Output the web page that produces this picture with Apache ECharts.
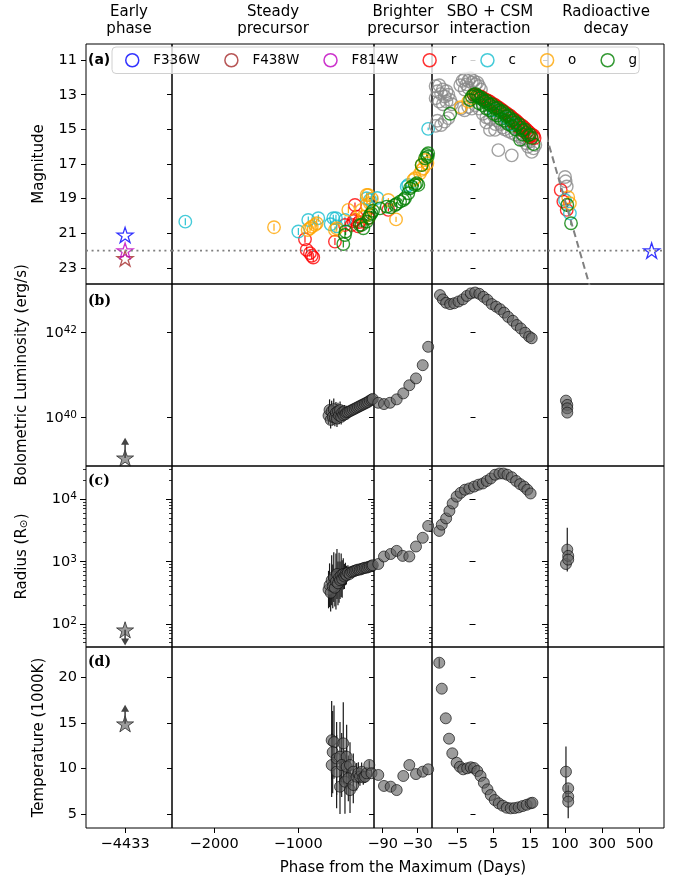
<!DOCTYPE html>
<html><head><meta charset="utf-8">
<script src="https://cdn.jsdelivr.net/npm/echarts@6/dist/echarts.min.js"></script>
<style>html,body{margin:0;padding:0;background:#fff}#c{width:686px;height:883px}</style>
</head><body><div id="c"></div>
<script>
// ---------------- axis / category definitions ----------------
const colTitles = ['Early\nphase','Steady\nprecursor','Brighter\nprecursor','SBO + CSM\ninteraction','Radioactive\ndecay'];
const colXRange = [[-4533,-4313],[-2500,-100],[-105,-5],[-12,20],[10,630]];
const colXTicks = [[-4433],[-2000,-1000],[-90,-30],[-5,5,15],[100,300,500]];
const colDataSpan = [[-5000,-3000],[-3000,-103],[-103,-11.5],[-11.5,50],[50,1000]];
const rowYRange = [[10.07,23.93],[38.87,43.13],[1.63,4.53],[3.5,23.3]];
const rowYTicks = [[11,13,15,17,19,21,23],[40,42],[2,3,4],[5,10,15,20]];
const radiusMinorValues = [50,60,70,80,90,200,300,400,500,600,700,800,900,2000,3000,4000,5000,6000,7000,8000,9000,20000,30000];
const rowTitles = ['Magnitude','Bolometric Luminosity (erg/s)','Radius (R{sub|\u2299})','Temperature (1000K)'];
const panelTags = ['(a)','(b)','(c)','(d)'];
const xTitle = 'Phase from the Maximum (Days)';
const legendNames = ['F336W','F438W','F814W','r','c','o','g'];

// ---------------- row (a): magnitudes [day, mag, err] ----------------
const F336W = [[-4433,21.1],[564,22.0]];
const F438W = [[-4433,22.45]];
const F814W = [[-4433,22.0]];
const hstLimitMag = 22.0;
const decayLine = [[0,15.34],[240,24.3]];
const otherMag = [
 [-11,12.5],[-10.5,12.8],[-10,12.45],[-9.5,12.95],[-9,12.7],[-8.5,13.1],[-8,12.8],[-7.5,13.0],[-7,13.3],[-11,13.2],[-10,13.4],[-9,13.55],[-8,13.4],[-6.5,13.55],
 [-11,14.8],[-10.5,14.5],[-9.5,14.75],[-8.5,14.55],[-7.5,14.35],
 [-4.2,12.45],[-3.6,12.2],[-3,12.1],[-2.5,12.4],[-2,12.2],[-1.5,12.05],[-1,12.3],[-0.5,12.2],[0,12.4],[0.5,12.3],[1,12.5],[-3,12.7],[-2,12.6],[1.5,12.7],
 [-4,13.8],[-3,13.9],[-2,13.7],[-1,13.8],[0,13.6],[1,13.8],[2,14.1],[3,14.3],[3,14.6],[4,14.4],[5,14.2],[5.5,14.7],[6,14.5],[7,14.7],[7.5,14.9],[8,15.0],[8.5,14.6],[9,15.1],[10,15.2],[10.5,14.9],[11,15.3],[12,15.4],[12.5,15.2],[13,15.6],[13.5,15.5],[14,15.8],[14.5,16.0],[15,15.7],[16,16.1],[16.5,15.9],
 [4,15.03],[5.4,15.03],[6.3,16.2],[10,16.5],[15.5,16.3],
 [101,17.75],[110,18.3],[104,18.0]
];
const rMag = [
 [-920,21.35,0.2],[-900,21.96,0.2],[-861,22.15,0.2],[-840,22.3,0.2],[-822,22.4,0.25],[-564,21.48,0.2],[-445,20.52,0.2],[-366,20.52,0.15],[-345,20.3,0.15],[-326,19.37,0.15],[-326,20.23,0.15],[-306,20.04,0.15],[-290,20.6,0.15],[-275,20.35,0.15],[-168,20.13,0.15],
 [-80.3,19.65,0.1],
 [-0.5,13.0],[0,13.0],[0.5,13.05],[1,13.1],[1.5,13.1],[2,13.2],[2.5,13.25],[3,13.3],[3.5,13.35],[4,13.4],[4.5,13.5],[5,13.55],[5.5,13.6],[6,13.7],[6.5,13.75],[7,13.85],[7.5,13.9],[8,14.0],[8.5,14.05],[9,14.15],[9.5,14.2],[10,14.3],[10.5,14.4],[11,14.45],[11.5,14.55],[12,14.65],[12.5,14.75],[13,14.8],[13.5,14.9],[14,15.0],[14.5,15.1],[15,15.2],[15.5,15.3],[16,15.35],[16.3,15.5],[14.8,15.45],[13.2,15.1],[11.8,14.85],[10.3,14.6],
 [78,18.5,0.12],[92,19.17,0.12],[110,19.65,0.12]
];
const cMag = [
 [-2342,20.33,0.2],[-999,20.9,0.2],[-881,20.23,0.2],[-762,20.13,0.2],[-615,20.48,0.2],[-584,20.13,0.2],[-552,20.13,0.2],[-543,20.6,0.2],[-445,20.23,0.2],[-187,18.98,0.15],[-148,19.08,0.15],
 [-99.3,18.96,0.12],[-48.6,18.31,0.1],[-45.9,18.21,0.1],[-11.6,14.97,0.08],
 [5,13.9],[8.6,14.36],[10,14.7],
 [101,19.08,0.12],[127,19.85,0.12]
];
const oMag = [
 [-1288,20.65,0.2],[-888,20.81,0.2],[-860,20.71,0.2],[-840,20.62,0.2],[-801,20.52,0.2],[-781,20.42,0.2],[-564,20.81,0.2],[-543,20.71,0.2],[-405,19.65,0.2],[-247,19.65,0.15],[-227,20.04,0.15],[-207,20.04,0.15],[-187,19.37,0.15],[-187,18.79,0.15],[-168,18.79,0.15],[-148,19.27,0.15],[-125,19.0,0.15],
 [-80.3,19.08,0.12],[-67,20.2,0.15],[-37.2,17.92,0.1],[-34.3,17.82,0.1],[-25.7,17.54,0.1],[-22.8,17.06,0.1],[-22.8,17.34,0.1],[-20,17.25,0.1],[-17,16.77,0.1],[-13,16.96,0.1],
 [-4.1,13.72],[-2,13.4],[-1,13.2],
 [118,18.92,0.12],[127,19.27,0.12]
];
const gMag = [
 [-465,21.62,0.2],[-445,21.1,0.2],[-437,20.9,0.2],[-267,20.52,0.15],[-247,20.52,0.15],[-227,20.71,0.15],[-187,20.33,0.15],[-160,20.1,0.15],[-148,19.94,0.15],[-130,19.85,0.15],[-112,19.7,0.15],
 [-94.7,19.56,0.1],[-83,19.46,0.1],[-76,19.5,0.1],[-68.8,19.37,0.1],[-66,19.3,0.1],[-60,19.17,0.1],[-54.5,19.08,0.1],[-51.6,18.98,0.1],[-45.9,18.69,0.1],[-43,18.4,0.1],[-40,18.31,0.1],[-34.3,18.21,0.1],[-31.4,18.11,0.1],[-28.6,18.21,0.1],[-22.8,17.06,0.1],[-17,16.67,0.1],[-14.1,16.48,0.1],[-12.5,16.58,0.1],[-11.6,16.38,0.1],
 [-7,14.1],[-1.5,13.3],[-1,13.1],[-0.5,13.0],[0,12.95],[0.4,13.05],[0.8,13.1],[1.2,13.2],[1.6,13.15],[2,13.3],[2.5,13.4],[3,13.35],[3.5,13.5],[4,13.6],[4.5,13.55],[5,13.7],[5.5,13.8],[6,13.75],[6.5,13.9],[7,14.0],[7.5,13.95],[8,14.1],[8.5,14.25],[9,14.2],[9.5,14.35],[10,14.5],[10.5,14.45],[11,14.6],[11.5,14.75],[12,14.7],[12.5,14.9],[13,15.05],[13.5,15.0],[14,15.2],[14.5,15.35],[15,15.3],[15.5,15.5],[16,15.85],[12.3,15.6],
 [1,13.5],[3,13.8],[5,14.1],[7,14.4],[9,14.7],[11,15.0],[13,15.3],[2,13.6],[4,13.9],[6,14.2],[8,14.5],[10,14.8],
 [113,19.37,0.12],[133,20.42,0.12]
];

// ---------------- rows (b)-(d): [day, value, err] ----------------
// (b) log10 bolometric luminosity (erg/s)
const lumLog10 = [
 [-640,40.05,0.2],[-628,40.18,0.25],[-615,39.95,0.2],[-603,40.15,0.25],[-590,40.02,0.2],[-578,40.2,0.25],[-565,40.0,0.2],[-552,40.12,0.25],[-540,39.98,0.2],[-528,40.15,0.2],[-515,40.05,0.2],[-503,40.18,0.2],[-490,40.02,0.18],[-478,40.12,0.18],[-465,40.06,0.15],[-452,40.15,0.15],[-440,40.08,0.12],[-428,40.12,0.1],
 [-410,40.13,0.06],[-390,40.15,0.05],[-370,40.17,0.05],[-350,40.19,0.04],[-330,40.21,0.04],[-310,40.23,0.04],[-290,40.25,0.03],[-270,40.27,0.03],[-250,40.29,0.03],[-230,40.31,0.03],[-210,40.33,0.03],[-190,40.35,0.03],[-170,40.37,0.03],[-150,40.4,0.03],[-130,40.42,0.03],[-115,40.44,0.03],
 [-97.6,40.35],[-87.8,40.32],[-77.4,40.35],[-65.9,40.43],[-54.5,40.57],[-44.1,40.76],[-32.6,40.92],[-21,41.23],[-11.6,41.66],
 [-9.8,42.87],[-9.0,42.77],[-8.1,42.69],[-7.0,42.66],[-5.9,42.68],[-4.7,42.72],[-3.5,42.77],[-2.4,42.85],[-1.3,42.91],[-0.1,42.93],[1.05,42.9],[2.2,42.83],[3.3,42.76],[4.5,42.66],[5.7,42.6],[6.8,42.54],[7.9,42.46],[9.0,42.36],[10.3,42.27],[11.4,42.17],[12.5,42.09],[13.7,41.99],[14.8,41.9],[15.5,41.86],
 [106,40.4],[113,40.3],[113,40.22],[113,40.12]
];
const lumEarly = [[-4433,39.06]];
const lumEarlyLimitTip = 39.45;
// (c) log10 radius (R_sun)
const radLog10 = [
 [-640,2.55,0.3],[-628,2.62,0.35],[-615,2.5,0.3],[-603,2.7,0.4],[-590,2.6,0.35],[-578,2.75,0.4],[-565,2.58,0.3],[-552,2.68,0.45],[-540,2.8,0.4],[-528,2.65,0.35],[-515,2.74,0.4],[-503,2.7,0.3],[-490,2.78,0.35],[-478,2.72,0.3],[-465,2.8,0.25],[-452,2.76,0.2],[-440,2.8,0.18],[-428,2.78,0.15],
 [-410,2.82,0.12],[-390,2.8,0.1],[-370,2.83,0.08],[-350,2.84,0.06],[-330,2.85,0.05],[-310,2.86,0.05],[-290,2.87,0.04],[-270,2.87,0.04],[-250,2.88,0.04],[-230,2.89,0.03],[-210,2.9,0.03],[-190,2.9,0.03],[-170,2.91,0.03],[-150,2.92,0.03],[-130,2.93,0.03],[-115,2.94,0.03],
 [-97.6,2.96],[-87.8,3.08],[-76.3,3.12],[-65.9,3.17],[-55.5,3.09],[-44.1,3.08],[-32.6,3.24],[-21,3.38],[-11.6,3.57],
 [-10,3.49],[-9.3,3.59],[-8.1,3.69],[-7.2,3.81],[-6.3,3.93],[-5.2,4.04],[-4.1,4.10],[-2.9,4.15],[-1.7,4.17],[-0.4,4.20],[0.8,4.23],[2.0,4.25],[3.1,4.29],[4.2,4.33],[5.4,4.39],[6.6,4.41],[7.7,4.41],[8.8,4.39],[10.0,4.35],[11.2,4.29],[12.3,4.24],[13.4,4.2],[14.3,4.15],[15.2,4.09],
 [106,2.96],[113,3.19,0.35],[118,3.09],[118,3.03]
];
const radEarly = [[-4433,1.905]];
const radEarlyLimitTip = 1.71;
// (d) temperature (1000 K)
const tempK = [
 [-603,13.1,4.3],[-575,12.9,4.0],[-591,11.8,4.5],[-465,12.76,4.5],[-603,10.39,3.5],[-544,11.1,4.0],[-504,11.3,3.8],[-425,11.3,3.5],[-544,9.66,4.0],[-484,10.39,3.5],[-425,10.2,3.0],[-385,10.39,2.5],[-346,9.66,2.0],[-504,8.02,3.0],[-445,8.56,3.5],[-385,7.65,2.5],[-405,8.93,2.5],[-346,8.2,2.0],[-306,9.11,1.5],[-286,9.48,1.2],[-267,9.11,1.0],[-247,9.66,1.0],[-227,9.04,0.8],[-207,9.11,0.7],[-187,9.48,0.6],[-156,10.39,0.5],[-130,9.5,0.4],
 [-97.6,9.3],[-87.8,8.1],[-76.3,8.02],[-65.9,7.65],[-54.5,9.19],[-44.1,10.39],[-32.6,9.4],[-21,9.66],[-11.6,9.92],
 [-10,21.58,0.5],[-9.3,18.74],[-8.2,15.5],[-7.3,13.27],[-6.4,11.67],[-5.2,10.64],[-4.3,10.2],[-3.4,9.92],[-2.3,10.03],[-1.3,10.14],[-0.4,10.06],[0.5,9.73],[1.4,9.19],[2.3,8.45],[3.3,7.73],[4.2,7.11],[5.3,6.56],[6.4,6.2],[7.5,5.94],[8.6,5.72],[9.7,5.65],[10.8,5.68],[11.9,5.76],[13.0,5.9],[14.1,6.04],[15.2,6.2],[15.7,6.26],
 [106,9.66,2.75],[118,7.84],[118,6.93],[118,6.38,1.8]
];
const tempEarly = [[-4433,14.9]];
const tempEarlyLimitTip = 16.6;

// ---------------- layout & style ----------------
const FONT = '"DejaVu Sans", sans-serif';
const colLeft = [86,172,374,432,548], colRight = [172,374,432,548,664];
const rowTop = [44,284,466,647], rowBottom = [284,466,647,828];
const bandColors = {F336W:'#0000ff', F438W:'#a52a2a', F814W:'#bf00bf', r:'#ff0000', c:'#17becf', o:'#ffa500', g:'#008000'};
const STAR = 'path://M0,-10L2.245,-3.09L9.511,-3.09L3.633,1.18L5.878,8.09L0,3.82L-5.878,8.09L-3.633,1.18L-9.511,-3.09L-2.245,-3.09Z';
const minus = v => (v < 0 ? '\u2212' : '') + Math.abs(v);

const grids = [], xAxes = [], yAxes = [], series = [];
for (let r = 0; r < 4; r++) {
  for (let c = 0; c < 5; c++) {
    const gi = r * 5 + c;
    grids.push({left: colLeft[c], top: rowTop[r], width: colRight[c] - colLeft[c], height: rowBottom[r] - rowTop[r],
      show: true, borderColor: '#000', borderWidth: 1, backgroundColor: 'transparent', containLabel: false, outerBoundsMode: 'none'});
    xAxes.push({type: 'value', gridIndex: gi, min: colXRange[c][0], max: colXRange[c][1], position: 'bottom',
      axisLine: {show: false}, splitLine: {show: false},
      axisTick: {show: r === 3, customValues: colXTicks[c], length: 5, lineStyle: {color: '#000', width: 1}},
      axisLabel: {show: r === 3, customValues: colXTicks[c], formatter: minus, fontSize: 14.5, color: '#000', fontFamily: FONT, margin: 9}});
    const isLog = (r === 1 || r === 2);
    yAxes.push({type: 'value', gridIndex: gi, min: rowYRange[r][0], max: rowYRange[r][1], inverse: r === 0, position: 'left',
      axisLine: {show: false}, splitLine: {show: false},
      axisTick: {show: true, customValues: rowYTicks[r], length: r === 2 ? 6 : 5, lineStyle: {color: '#000', width: 1}},
      axisLabel: {show: c === 0, customValues: rowYTicks[r], fontSize: 14.5, color: '#000', fontFamily: FONT, margin: 9,
        formatter: isLog ? (v => '{b|10}{sup|' + v + '}') : (v => minus(v)),
        rich: {b: {fontSize: 14.5, fontFamily: FONT, color: '#000', lineHeight: 16, verticalAlign: 'bottom'},
               sup: {fontSize: 10.5, fontFamily: FONT, color: '#000', lineHeight: 12, verticalAlign: 'top', padding: [0, 0, 8, 0]}}}});
  }
}
// minor ticks for the log radius row
for (let c = 0; c < 5; c++) {
  yAxes.push({type: 'value', gridIndex: 10 + c, min: rowYRange[2][0], max: rowYRange[2][1], position: 'left', offset: 0,
    axisLine: {show: false}, splitLine: {show: false}, axisLabel: {show: false},
    axisTick: {show: true, customValues: radiusMinorValues.map(v => Math.log10(v)), length: 3, lineStyle: {color: '#000', width: 0.8}}});
}

const spanFilter = (arr, c) => arr.filter(p => p[0] >= colDataSpan[c][0] && p[0] < colDataSpan[c][1]);
function errBars(gi, data, color, width) {
  const d = data.filter(p => p.length > 2);
  if (!d.length) return;
  series.push({type: 'custom', xAxisIndex: gi, yAxisIndex: gi, clip: true, silent: true, data: d,
    encode: {x: 0, y: 1},
    renderItem: (params, api) => {
      const x = api.value(0), y = api.value(1), e = api.value(2);
      const p1 = api.coord([x, y - e]), p2 = api.coord([x, y + e]);
      return {type: 'line', shape: {x1: p1[0], y1: p1[1], x2: p2[0], y2: p2[1]}, style: {stroke: color, lineWidth: width}};
    }});
}
function openCircles(gi, name, data, color, withErr) {
  if (!data.length) return;
  if (withErr) errBars(gi, data, color, 1.1);
  series.push({type: 'scatter', name: name, xAxisIndex: gi, yAxisIndex: gi, clip: true, silent: true,
    symbol: 'circle', symbolSize: 12.5, data: data.map(p => [p[0], p[1]]),
    itemStyle: {color: 'rgba(0,0,0,0)', borderColor: color, borderWidth: 1.4}});
}
function stars(gi, name, data, color) {
  if (!data.length) return;
  series.push({type: 'scatter', name: name, xAxisIndex: gi, yAxisIndex: gi, clip: true, silent: true,
    symbol: STAR, symbolKeepAspect: true, symbolSize: 16, data: data,
    itemStyle: {color: 'rgba(0,0,0,0)', borderColor: color, borderWidth: 1.3}});
}

// ---- row (a)
for (let c = 0; c < 5; c++) {
  const gi = c;
  series.push({type: 'line', xAxisIndex: gi, yAxisIndex: gi, silent: true, symbol: 'none',
    data: [[colXRange[c][0], hstLimitMag], [colXRange[c][1], hstLimitMag]],
    lineStyle: {color: '#808080', width: 1.6, type: [2, 3.6]}});
  if (c === 4) {
    series.push({type: 'line', xAxisIndex: gi, yAxisIndex: gi, silent: true, symbol: 'none', clip: true, data: decayLine,
      lineStyle: {color: '#808080', width: 2, type: [7, 4]}});
  }
  openCircles(gi, 'other', spanFilter(otherMag, c), '#8a8a8a', false);
  stars(gi, 'F336W', spanFilter(F336W, c), bandColors.F336W);
  stars(gi, 'F438W', spanFilter(F438W, c), bandColors.F438W);
  stars(gi, 'F814W', spanFilter(F814W, c), bandColors.F814W);
  openCircles(gi, 'r', spanFilter(rMag, c), bandColors.r, true);
  openCircles(gi, 'c', spanFilter(cMag, c), bandColors.c, true);
  openCircles(gi, 'o', spanFilter(oMag, c), bandColors.o, true);
  openCircles(gi, 'g', spanFilter(gMag, c), bandColors.g, true);
}

// ---- rows (b)-(d)
const physRows = [
  {r: 1, data: lumLog10, early: lumEarly, tip: lumEarlyLimitTip, up: true},
  {r: 2, data: radLog10, early: radEarly, tip: radEarlyLimitTip, up: false},
  {r: 3, data: tempK, early: tempEarly, tip: tempEarlyLimitTip, up: true}
];
const fillGrey = 'rgba(96,96,96,0.78)', edgeDark = 'rgba(15,15,15,0.85)';
physRows.forEach(pr => {
  for (let c = 0; c < 5; c++) {
    const gi = pr.r * 5 + c;
    const d = spanFilter(pr.data, c);
    errBars(gi, d, '#1a1a1a', 1.2);
    if (d.length) series.push({type: 'scatter', xAxisIndex: gi, yAxisIndex: gi, clip: true, silent: true,
      symbol: 'circle', symbolSize: 11, data: d.map(p => [p[0], p[1]]),
      itemStyle: {color: fillGrey, borderColor: edgeDark, borderWidth: 1}});
    const e = spanFilter(pr.early, c);
    if (e.length) {
      series.push({type: 'line', xAxisIndex: gi, yAxisIndex: gi, silent: true, showSymbol: true,
        data: [{value: [e[0][0], e[0][1]], symbol: 'none'},
               {value: [e[0][0], pr.tip], symbol: 'triangle', symbolSize: [8, 7], symbolRotate: pr.up ? 0 : 180}],
        lineStyle: {color: '#444', width: 1.6}, itemStyle: {color: '#444'}});
      series.push({type: 'scatter', xAxisIndex: gi, yAxisIndex: gi, silent: true, symbol: STAR, symbolKeepAspect: true,
        symbolSize: 17, data: e, itemStyle: {color: fillGrey, borderColor: edgeDark, borderWidth: 1}});
    }
  }
});

// ---- texts
const graphics = [];
colTitles.forEach((t, c) => graphics.push({type: 'text', x: (colLeft[c] + colRight[c]) / 2, y: 21, silent: true,
  style: {text: t, fontSize: 15, fontFamily: FONT, fill: '#000', textAlign: 'center', textVerticalAlign: 'middle', lineHeight: 17}}));
const rowTitleX = [39, 22, 22, 39];
rowTitles.forEach((t, r) => graphics.push({type: 'text', x: rowTitleX[r], y: (rowTop[r] + rowBottom[r]) / 2, rotation: Math.PI / 2, silent: true,
  style: {text: t, fontSize: 15, fontFamily: FONT, fill: '#000', textAlign: 'center', textVerticalAlign: 'middle',
    rich: {sub: {fontSize: 10.5, fontFamily: FONT, fill: '#000', verticalAlign: 'bottom', lineHeight: 12, padding: [6, 0, 0, 0]}}}}));
graphics.push({type: 'text', x: 403, y: 868, silent: true,
  style: {text: xTitle, fontSize: 15, fontFamily: FONT, fill: '#000', textAlign: 'center', textVerticalAlign: 'middle'}});
const tagY = [60, 301, 481.5, 662.5];
panelTags.forEach((t, r) => graphics.push({type: 'text', x: 88, y: tagY[r], silent: true, z: 100,
  style: {text: t, fontSize: 14, fontWeight: 'bold', fontFamily: r === 0 ? FONT : '"DejaVu Serif", serif', fill: '#000', textAlign: 'left', textVerticalAlign: 'middle'}}));

const chart = echarts.init(document.getElementById('c'), null, {renderer: 'canvas'});
chart.setOption({
  animation: false,
  backgroundColor: '#fff',
  grid: grids, xAxis: xAxes, yAxis: yAxes, series: series,
  legend: {left: 112, top: 47, orient: 'horizontal', itemWidth: 32, itemHeight: 13, itemGap: 24, padding: [6, 2, 6, 13],
    backgroundColor: 'rgba(255,255,255,0.8)', borderColor: '#d0d0d0', borderWidth: 1, borderRadius: 4, selectedMode: false,
    textStyle: {fontSize: 13.5, fontFamily: FONT, color: '#000'},
    data: legendNames.map(n => ({name: n, icon: 'circle',
      itemStyle: {color: 'rgba(0,0,0,0)', borderColor: bandColors[n], borderWidth: 1.5}}))},
  graphic: graphics
});
</script></body></html>
